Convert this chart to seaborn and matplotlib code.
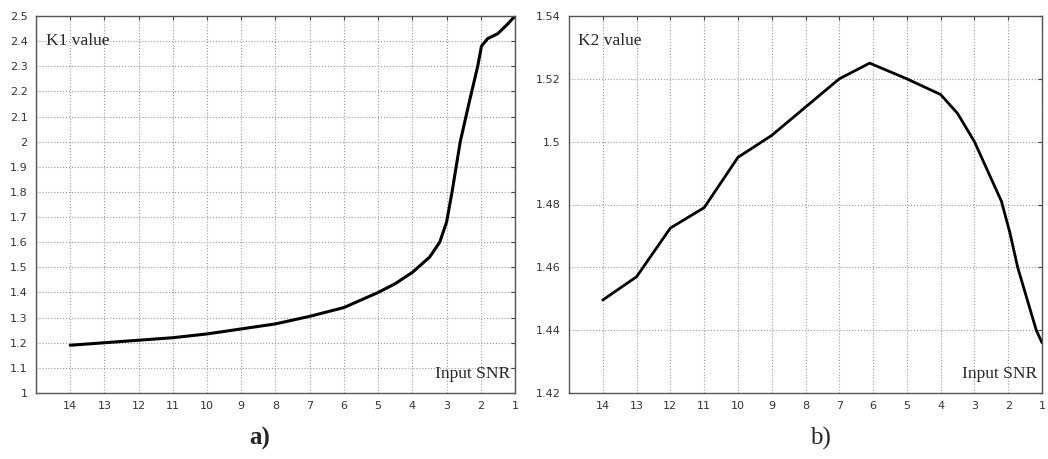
import numpy as np
import pandas as pd
import matplotlib
matplotlib.use("Agg")
import matplotlib.pyplot as plt
import seaborn as sns

# K1 curve (panel a)
snr_k1 = [14, 13.5, 13, 12, 11, 10, 9, 8, 7, 6, 5, 4.5, 4, 3.5, 3.2, 3.0,
          2.84, 2.6, 2.35, 2.09, 1.98, 1.8, 1.5, 1.2, 1.0]
k1_vals = [1.19, 1.195, 1.20, 1.21, 1.22, 1.235, 1.255, 1.275, 1.305, 1.34, 1.40, 1.435, 1.48, 1.54, 1.60, 1.68,
           1.80, 2.0, 2.15, 2.30, 2.38, 2.41, 2.43, 2.47, 2.50]

# K2 curve (panel b)
snr_k2 = [14, 13, 12, 11, 10, 9, 8, 7, 6.1, 5, 4, 3.5, 3, 2.6, 2.2, 1.95, 1.72, 1.17, 1.0]
k2_vals = [1.4496, 1.457, 1.4725, 1.479, 1.495, 1.502, 1.511, 1.520, 1.525, 1.520, 1.515, 1.509, 1.500, 1.4905,
           1.481, 1.471, 1.46, 1.44, 1.436]

x_ticks = list(range(14, 0, -1))
k1_ticks = [round(1.0 + 0.1 * i, 1) for i in range(16)]
k2_ticks = [1.42, 1.44, 1.46, 1.48, 1.50, 1.52, 1.54]

sns.set_style("white")
plt.rcParams['font.family'] = ['DejaVu Sans']

fig = plt.figure(figsize=(10.48, 4.59), dpi=100)
ax1 = fig.add_axes([36 / 1048, 1 - 393 / 459, 479 / 1048, 377 / 459])
ax2 = fig.add_axes([569 / 1048, 1 - 393 / 459, 473 / 1048, 377 / 459])

df1 = pd.DataFrame({'snr': snr_k1, 'k': k1_vals})
df2 = pd.DataFrame({'snr': snr_k2, 'k': k2_vals})

serif = ['Liberation Serif', 'DejaVu Serif']

def style(ax, yticks, ylim, name):
    ax.set_xlim(15, 1)
    ax.set_ylim(*ylim)
    ax.set_xticks(x_ticks)
    ax.set_xticklabels([str(t) for t in x_ticks])
    ax.set_yticks(yticks)
    ax.set_yticklabels([('%g' % t) for t in yticks])
    ax.grid(True, color='#9a9a9a', linestyle=':', linewidth=0.8)
    ax.tick_params(direction='in', length=3, top=True, right=True, labelsize=8,
                   colors='#444444', labelcolor='#333333', pad=6)
    for s in ax.spines.values():
        s.set_color('#555555')
        s.set_linewidth(1.0)
    ax.set_xlabel('')
    ax.set_ylabel('')
    ax.text(0.02, 0.935, name, transform=ax.transAxes, family=serif, fontsize=12.5,
            ha='left', va='center')
    ax.text(0.99, 0.05, 'Input SNR', transform=ax.transAxes, family=serif, fontsize=12.5,
            ha='right', va='center')

sns.lineplot(data=df1, x='snr', y='k', ax=ax1, color='black', linewidth=2.2, sort=False)
sns.lineplot(data=df2, x='snr', y='k', ax=ax2, color='black', linewidth=2.0, sort=False)

style(ax1, k1_ticks, (1.0, 2.5), 'K1 value')
style(ax2, k2_ticks, (1.42, 1.54), 'K2 value')

fig.text(260 / 1048, 1 - 438 / 459, 'a)', family=serif, fontsize=18, fontweight='bold',
         ha='center', va='center')
fig.text(820 / 1048, 1 - 438 / 459, 'b)', family=serif, fontsize=18,
         ha='center', va='center')

fig.savefig('out.png', dpi=100)
